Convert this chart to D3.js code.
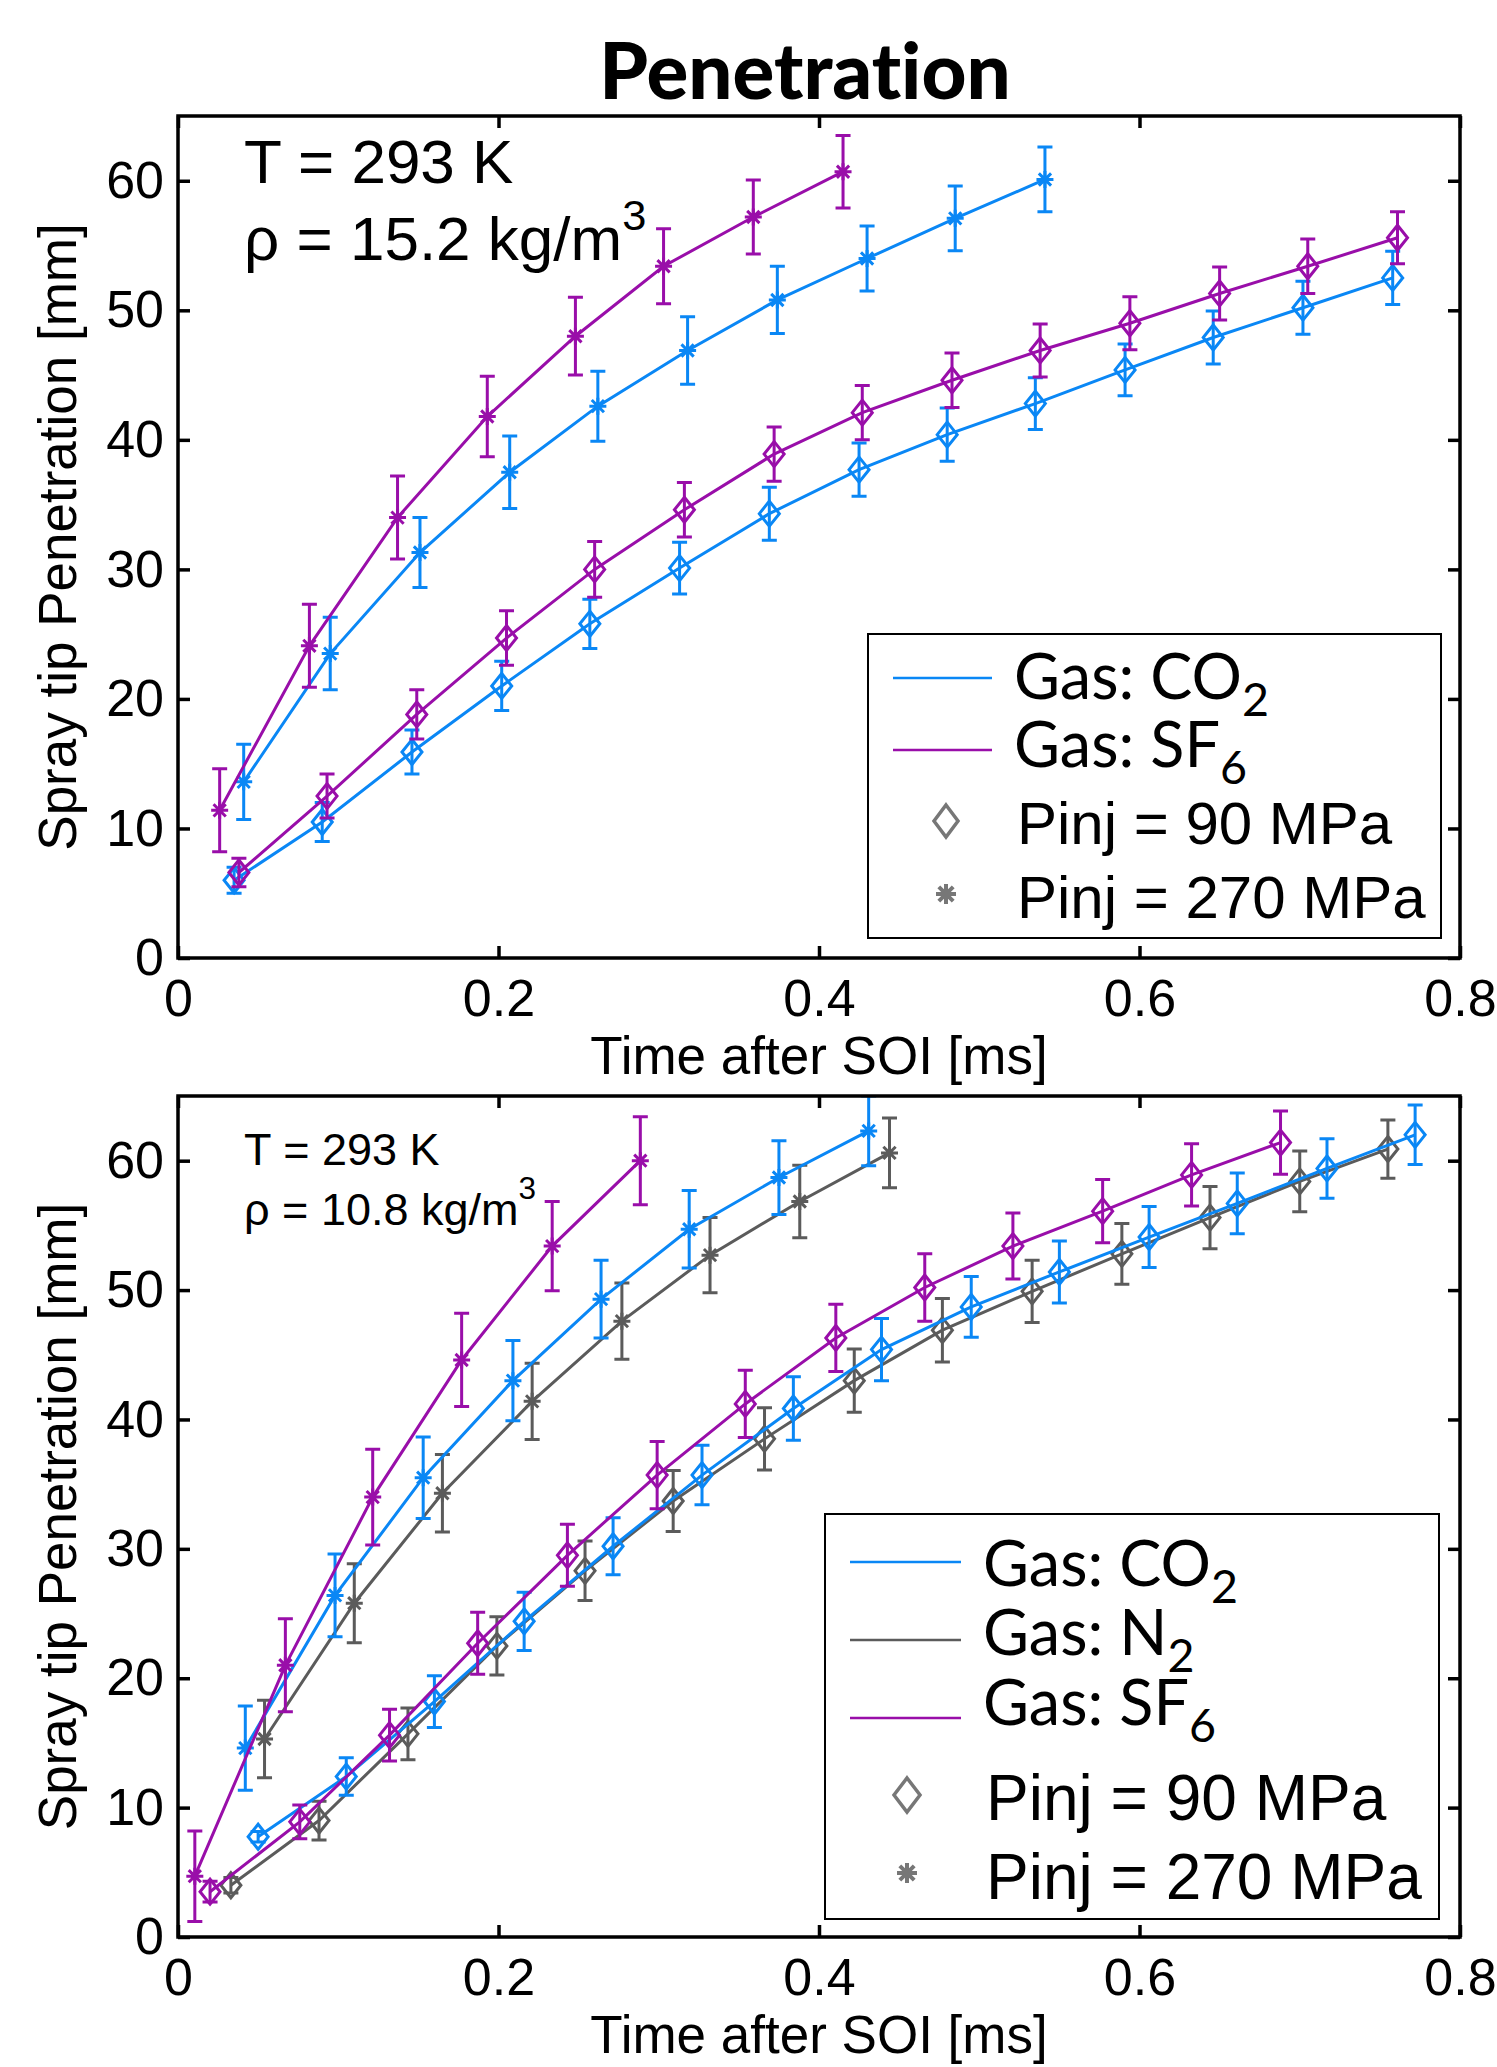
<!DOCTYPE html>
<html>
<head>
<meta charset="utf-8">
<script src="https://cdn.jsdelivr.net/npm/d3@7/dist/d3.min.js"></script>
<style>
  body { margin: 0; background: #fff; }
  text { font-family: "Liberation Sans", Arial, sans-serif; fill: #000; font-variant-ligatures: none; }
</style>
</head>
<body>
<div id="chart-container"></div>
<script>

// Axis ticks.
const xTicks = [0, 0.2, 0.4, 0.6, 0.8];
const xTickLabels = ["0", "0.2", "0.4", "0.6", "0.8"];
const yTicks = [0, 10, 20, 30, 40, 50, 60];

// Top panel, rho = 15.2 kg/m3.
const topCO2_270_t = [0.041, 0.095, 0.151, 0.207, 0.262, 0.318, 0.374, 0.430, 0.485, 0.541];
const topCO2_270_y = [13.6, 23.5, 31.3, 37.5, 42.6, 46.9, 50.8, 54.0, 57.1, 60.1];
const topCO2_270_e = [2.9, 2.8, 2.7, 2.8, 2.7, 2.6, 2.6, 2.5, 2.5, 2.5];

const topSF6_270_t = [0.026, 0.082, 0.137, 0.193, 0.248, 0.303, 0.359, 0.415];
const topSF6_270_y = [11.4, 24.1, 34.0, 41.8, 48.0, 53.4, 57.2, 60.7];
const topSF6_270_e = [3.2, 3.2, 3.2, 3.1, 3.0, 2.9, 2.85, 2.8];

const topCO2_90_t = [0.035, 0.090, 0.146, 0.202, 0.257, 0.313, 0.369, 0.425, 0.480, 0.535, 0.591, 0.646, 0.702, 0.758];
const topCO2_90_y = [6.0, 10.5, 15.9, 21.0, 25.8, 30.1, 34.3, 37.7, 40.4, 42.8, 45.4, 47.9, 50.2, 52.5];
const topCO2_90_e = [1.0, 1.5, 1.7, 1.9, 1.9, 2.0, 2.05, 2.05, 2.05, 2.0, 2.0, 2.05, 2.05, 2.05];

const topSF6_90_t = [0.038, 0.093, 0.149, 0.205, 0.260, 0.316, 0.372, 0.427, 0.483, 0.538, 0.594, 0.650, 0.705, 0.761];
const topSF6_90_y = [6.6, 12.5, 18.8, 24.7, 30.0, 34.6, 38.9, 42.1, 44.6, 46.9, 49.0, 51.3, 53.4, 55.6];
const topSF6_90_e = [1.1, 1.7, 1.9, 2.1, 2.15, 2.1, 2.1, 2.1, 2.1, 2.05, 2.05, 2.05, 2.1, 2.0];

// Bottom panel, rho = 10.8 kg/m3.
const botCO2_270_t = [0.042, 0.098, 0.153, 0.209, 0.264, 0.319, 0.375, 0.431];
const botCO2_270_y = [14.6, 26.4, 35.5, 43.0, 49.3, 54.7, 58.7, 62.3];
const botCO2_270_e = [3.25, 3.2, 3.15, 3.1, 3.0, 3.0, 2.85, 2.7];

const botN2_270_t = [0.054, 0.110, 0.165, 0.221, 0.277, 0.332, 0.388, 0.444];
const botN2_270_y = [15.3, 25.8, 34.3, 41.4, 47.6, 52.7, 56.85, 60.6];
const botN2_270_e = [3.0, 3.05, 3.0, 2.95, 2.95, 2.9, 2.8, 2.7];

const botSF6_270_t = [0.0105, 0.067, 0.1215, 0.177, 0.2335, 0.2885];
const botSF6_270_y = [4.7, 21.0, 34.0, 44.6, 53.4, 60.0];
const botSF6_270_e = [3.5, 3.6, 3.7, 3.6, 3.45, 3.4];

const botCO2_90_t = [0.050, 0.105, 0.160, 0.216, 0.2715, 0.327, 0.384, 0.439, 0.495, 0.550, 0.606, 0.661, 0.717, 0.772];
const botCO2_90_y = [7.75, 12.4, 18.2, 24.4, 30.2, 35.7, 40.85, 45.4, 48.7, 51.4, 54.1, 56.7, 59.4, 62.0];
const botCO2_90_e = [0.4, 1.45, 2.0, 2.25, 2.2, 2.3, 2.45, 2.4, 2.35, 2.4, 2.35, 2.35, 2.3, 2.3];

const botN2_90_t = [0.033, 0.088, 0.1435, 0.199, 0.254, 0.309, 0.366, 0.422, 0.477, 0.533, 0.589, 0.644, 0.700, 0.755];
const botN2_90_y = [4.0, 9.0, 15.7, 22.5, 28.3, 33.7, 38.5, 43.0, 46.9, 49.9, 52.8, 55.6, 58.4, 60.9];
const botN2_90_e = [0.6, 1.5, 2.0, 2.25, 2.3, 2.35, 2.4, 2.45, 2.45, 2.4, 2.35, 2.4, 2.35, 2.25];

const botSF6_90_t = [0.020, 0.076, 0.132, 0.187, 0.243, 0.299, 0.354, 0.4105, 0.466, 0.521, 0.577, 0.6325, 0.688];
const botSF6_90_y = [3.5, 8.9, 15.6, 22.7, 29.5, 35.7, 41.2, 46.3, 50.2, 53.4, 56.1, 58.9, 61.4];
const botSF6_90_e = [0.8, 1.3, 2.0, 2.4, 2.4, 2.6, 2.6, 2.6, 2.6, 2.55, 2.45, 2.4, 2.45];

// Colours.
const colBlue = "#0a87f5", colPurple = "#990ea9", colGray = "#5b5b5b", colLegendMarker = "#777";

// Build series rows from the arrays.
function series(t, y, e, color, marker) {
  return { color: color, marker: marker, pts: t.map((d, i) => ({ t: d, y: y[i], e: e[i] })) };
}

const topSeries = [
  series(topCO2_90_t, topCO2_90_y, topCO2_90_e, colBlue, "diamond"),
  series(topCO2_270_t, topCO2_270_y, topCO2_270_e, colBlue, "star"),
  series(topSF6_90_t, topSF6_90_y, topSF6_90_e, colPurple, "diamond"),
  series(topSF6_270_t, topSF6_270_y, topSF6_270_e, colPurple, "star")
];

const botSeries = [
  series(botN2_90_t, botN2_90_y, botN2_90_e, colGray, "diamond"),
  series(botN2_270_t, botN2_270_y, botN2_270_e, colGray, "star"),
  series(botCO2_90_t, botCO2_90_y, botCO2_90_e, colBlue, "diamond"),
  series(botCO2_270_t, botCO2_270_y, botCO2_270_e, colBlue, "star"),
  series(botSF6_90_t, botSF6_90_y, botSF6_90_e, colPurple, "diamond"),
  series(botSF6_270_t, botSF6_270_y, botSF6_270_e, colPurple, "star")
];

// Canvas.
const svg = d3.select("#chart-container").append("svg")
  .attr("width", 1497)
  .attr("height", 2067);

// Title.
svg.append("text")
  .attr("x", 805)
  .attr("y", 99)
  .attr("text-anchor", "middle")
  .style("font-family", "Lato, 'Open Sans', sans-serif")
  .style("font-weight", "900")
  .style("font-size", "78px")
  .text("Penetration");

// Marker drawers.
function drawDiamond(g, w, h, color, sw) {
  g.append("path")
    .attr("d", `M0,${ -h } L${ w },0 L0,${ h } L${ -w },0 Z`)
    .attr("fill", "none")
    .attr("stroke", color)
    .attr("stroke-width", sw);
}

function drawStar(g, r, color, sw) {
  const q = r * 0.72;
  g.append("path")
    .attr("d", `M0,${ -r } V${ r } M${ -r },0 H${ r } M${ -q },${ -q } L${ q },${ q } M${ -q },${ q } L${ q },${ -q }`)
    .attr("stroke", color)
    .attr("stroke-width", sw);
}

// Panel drawer.
function drawPanel(cfg) {
  const left = 178, right = 1460;

  const xScale = d3.scaleLinear().domain([0, 0.8]).range([left, right]);
  const yScale = d3.scaleLinear().domain([0, 65]).range([cfg.bottom, cfg.top]);

  const panel = svg.append("g").attr("id", cfg.id);

  // Clip.
  panel.append("clipPath")
    .attr("id", cfg.id + "-clip")
  .append("rect")
    .attr("x", left)
    .attr("y", cfg.top)
    .attr("width", right - left)
    .attr("height", cfg.bottom - cfg.top);

  const plot = panel.append("g").attr("clip-path", `url(#${ cfg.id }-clip)`);

  const pathGen = d3.line()
    .x(d => xScale(d.t))
    .y(d => yScale(d.y));

  cfg.series.forEach(s => {
    const g = plot.append("g");

    // Line.
    g.append("path")
      .attr("d", pathGen(s.pts))
      .attr("fill", "none")
      .attr("stroke", s.color)
      .attr("stroke-width", 3);

    // Error bars.
    g.selectAll(".err")
      .data(s.pts)
      .enter()
      .append("path")
        .attr("d", d => {
          const x = xScale(d.t), y1 = yScale(d.y - d.e), y2 = yScale(d.y + d.e);
          return `M${ x },${ y1 } V${ y2 } M${ x - 7.5 },${ y1 } H${ x + 7.5 } M${ x - 7.5 },${ y2 } H${ x + 7.5 }`;
        })
        .attr("fill", "none")
        .attr("stroke", s.color)
        .attr("stroke-width", 3);

    // Markers.
    g.selectAll(".mk")
      .data(s.pts)
      .enter()
      .append("g")
        .attr("transform", d => `translate(${ xScale(d.t) } ${ yScale(d.y) })`)
        .each(function() {
          if (s.marker === "diamond") drawDiamond(d3.select(this), 10, 12.5, s.color, 3);
          else drawStar(d3.select(this), 8.5, s.color, 3);
        });
  });

  // Axes, ticks pointing inward.
  panel.append("g")
    .attr("transform", `translate(0 ${ cfg.bottom })`)
    .call(d3.axisBottom(xScale).tickValues(xTicks).tickFormat((d, i) => xTickLabels[i]).tickSize(-12).tickPadding(21))
    .call(g => g.select(".domain").remove())
    .call(g => g.selectAll("text").style("font-size", "52px").style("font-family", "'Liberation Sans', Arial, sans-serif"));

  panel.append("g")
    .attr("transform", `translate(0 ${ cfg.top })`)
    .call(d3.axisTop(xScale).tickValues(xTicks).tickFormat("").tickSize(-12))
    .call(g => g.select(".domain").remove());

  panel.append("g")
    .attr("transform", `translate(${ left } 0)`)
    .call(d3.axisLeft(yScale).tickValues(yTicks).tickSize(-12).tickPadding(14))
    .call(g => g.select(".domain").remove())
    .call(g => g.selectAll("text").style("font-size", "52px").style("font-family", "'Liberation Sans', Arial, sans-serif"));

  panel.append("g")
    .attr("transform", `translate(${ right } 0)`)
    .call(d3.axisRight(yScale).tickValues(yTicks).tickFormat("").tickSize(-12))
    .call(g => g.select(".domain").remove());

  panel.selectAll(".tick line")
    .attr("stroke", "#000")
    .attr("stroke-width", 3.5);

  // Box.
  panel.append("rect")
    .attr("x", left)
    .attr("y", cfg.top)
    .attr("width", right - left)
    .attr("height", cfg.bottom - cfg.top)
    .attr("fill", "none")
    .attr("stroke", "#000")
    .attr("stroke-width", 3.5);

  // Axis labels.
  panel.append("text")
    .attr("x", (left + right) / 2)
    .attr("y", cfg.bottom + 116)
    .attr("text-anchor", "middle")
    .style("font-size", "53px")
    .text("Time after SOI [ms]");

  panel.append("text")
    .attr("transform", `translate(76 ${ (cfg.top + cfg.bottom) / 2 }) rotate(-90)`)
    .attr("text-anchor", "middle")
    .style("font-size", "53px")
    .text("Spray tip Penetration [mm]");

  // Conditions.
  const note = cfg.note;
  panel.append("text")
    .attr("x", 244)
    .attr("y", note.y1)
    .style("font-size", note.size + "px")
    .text("T = 293 K");

  const rho = panel.append("text")
    .attr("x", 244)
    .attr("y", note.y2)
    .style("font-size", note.size + "px");
  rho.append("tspan").text("ρ = " + note.rho + " kg/m");
  rho.append("tspan")
    .attr("dy", -note.sup)
    .style("font-size", (note.size * 0.7) + "px")
    .text("3");

  // Legend.
  const lg = cfg.legend;
  const legend = panel.append("g");

  legend.append("rect")
    .attr("x", lg.x)
    .attr("y", lg.y)
    .attr("width", lg.w)
    .attr("height", lg.h)
    .attr("fill", "#fff")
    .attr("stroke", "#000")
    .attr("stroke-width", 2);

  lg.items.forEach(it => {
    if (it.type === "line") {
      legend.append("line")
        .attr("x1", lg.lineX1)
        .attr("x2", lg.lineX2)
        .attr("y1", it.ly)
        .attr("y2", it.ly)
        .attr("stroke", it.color)
        .attr("stroke-width", 2.5);

      const t = legend.append("text")
        .attr("x", lg.textX)
        .attr("y", it.ty)
        .style("font-family", "Lato, 'Open Sans', sans-serif")
        .style("font-size", lg.gasSize + "px");
      t.append("tspan").text(it.label);
      t.append("tspan")
        .attr("dy", lg.gasSize * 0.27)
        .style("font-size", (lg.gasSize * 0.74) + "px")
        .text(it.sub);
    } else {
      const mg = legend.append("g")
        .attr("transform", `translate(${ lg.markX } ${ it.ly })`);
      if (it.marker === "diamond") drawDiamond(mg, lg.dw, lg.dh, colLegendMarker, 3.5);
      else drawStar(mg, 10, colLegendMarker, 4);

      legend.append("text")
        .attr("x", lg.textX + 3)
        .attr("y", it.ty)
        .style("font-size", lg.pinjSize + "px")
        .text(it.label);
    }
  });
}

// Top panel.
drawPanel({
  id: "top-panel",
  top: 116,
  bottom: 958,
  series: topSeries,
  note: { y1: 183, y2: 260, size: 62, rho: "15.2", sup: 30 },
  legend: {
    x: 868, y: 634, w: 573, h: 304,
    lineX1: 893, lineX2: 992, textX: 1014, markX: 946,
    dw: 12, dh: 16, gasSize: 63, pinjSize: 60,
    items: [
      { type: "line", color: colBlue, label: "Gas: CO", sub: "2", ly: 678, ty: 699 },
      { type: "line", color: colPurple, label: "Gas: SF", sub: "6", ly: 750, ty: 767 },
      { type: "mark", marker: "diamond", label: "Pinj = 90 MPa", ly: 821, ty: 844 },
      { type: "mark", marker: "star", label: "Pinj = 270 MPa", ly: 894, ty: 918 }
    ]
  }
});

// Bottom panel.
drawPanel({
  id: "bottom-panel",
  top: 1096,
  bottom: 1937,
  series: botSeries,
  note: { y1: 1165, y2: 1225, size: 45, rho: "10.8", sup: 26 },
  legend: {
    x: 825, y: 1514, w: 614, h: 405,
    lineX1: 850, lineX2: 961, textX: 983, markX: 907,
    dw: 13, dh: 17, gasSize: 63, pinjSize: 64,
    items: [
      { type: "line", color: colBlue, label: "Gas: CO", sub: "2", ly: 1562, ty: 1586 },
      { type: "line", color: colGray, label: "Gas: N", sub: "2", ly: 1640, ty: 1655 },
      { type: "line", color: colPurple, label: "Gas: SF", sub: "6", ly: 1718, ty: 1725 },
      { type: "mark", marker: "diamond", label: "Pinj = 90 MPa", ly: 1795, ty: 1820 },
      { type: "mark", marker: "star", label: "Pinj = 270 MPa", ly: 1873, ty: 1899 }
    ]
  }
});

</script>
</body>
</html>
